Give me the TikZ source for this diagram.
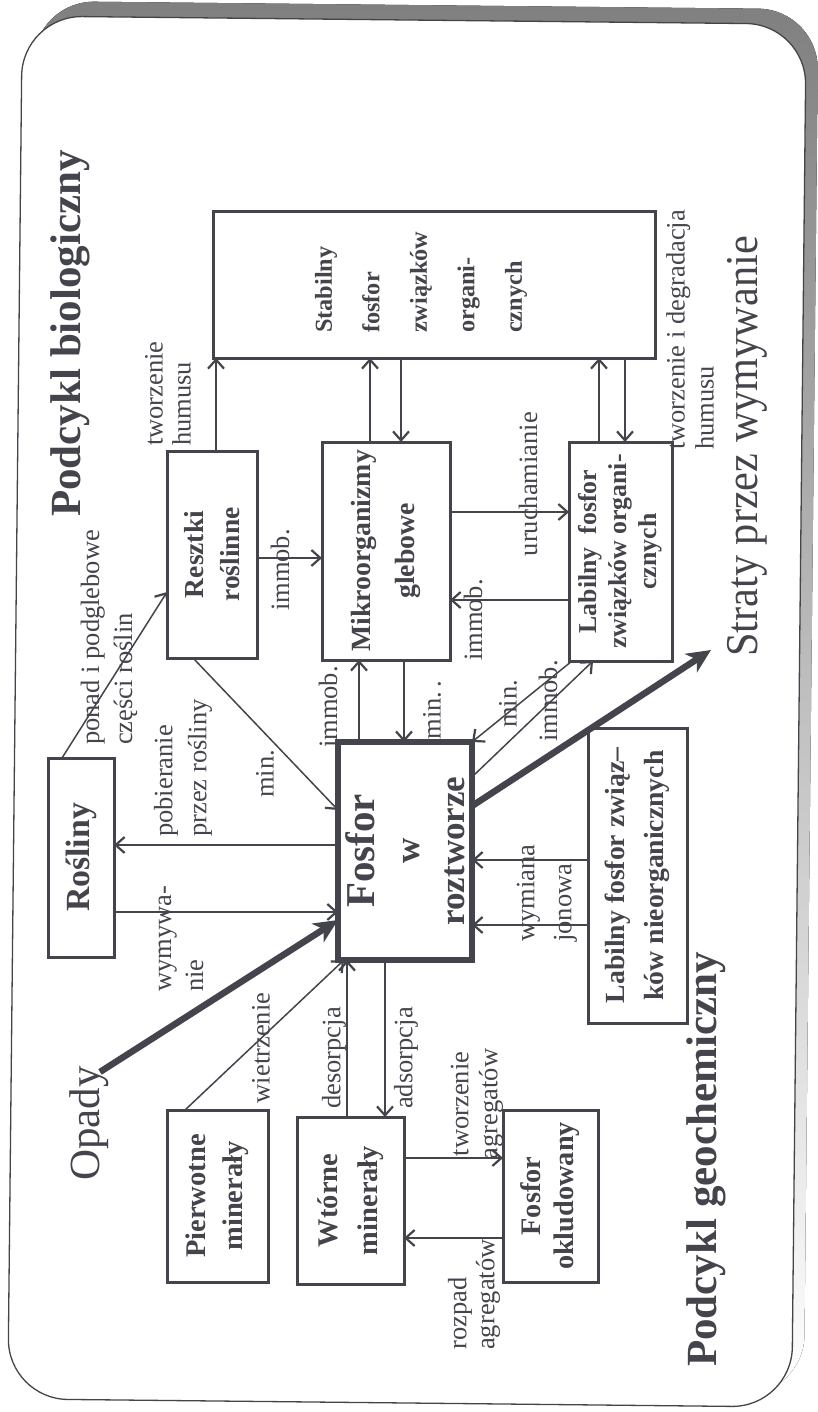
\documentclass[tikz,border=0pt]{standalone}
\usepackage{fontspec}
\setmainfont{Liberation Serif}
\newfontfamily\nrwfont{Liberation Serif}[FakeStretch=0.93]
\usetikzlibrary{arrows.meta,calc}
\definecolor{ink}{RGB}{68,68,76}
\definecolor{shade}{RGB}{90,90,98}
\newcommand\bxf[2]{\bfseries\fontsize{#1}{#2}\selectfont}
\newcommand\lbf[1]{\fontsize{26.5}{#1}\selectfont}
\begin{document}
\begin{tikzpicture}[x=1pt,y=-1pt,
  box/.style={draw=ink, line width=3pt, rotate=90, inner sep=0pt, outer sep=0pt, align=center, text=ink},
  lbl/.style={rotate=90, inner sep=0pt, text=ink, font=\lbf{30}},
  head/.style={rotate=90, anchor=west, inner sep=0pt, text=ink},
  conn/.style={draw=ink, line width=1.5pt},
  arr/.style={conn, -{Straight Barb[length=9pt,width=16pt,line width=2.2pt]}},
  big/.style={draw=ink, line width=6.5pt, -{Stealth[length=24pt,width=22pt,inset=7pt]}}
]
\useasboundingbox (0,0) rectangle (817,1412);
% frame
\begin{scope}[rotate around={-0.6:(408,710)}]
\fill[shade, rounded corners=60pt] (27,5) rectangle (811,1391);
\filldraw[fill=white, draw=ink, line width=1.3pt, rounded corners=60pt] (15,20) rectangle (799,1403);
\end{scope}

% boxes
\node[box, minimum width=146pt, minimum height=442pt] (stab) at (434,285) {};
\node[rotate=90, anchor=west, align=left, inner sep=0pt, text=ink, font=\bxf{24.3}{47.5}] (stabtxt) at (421,333) {Stabilny\\fosfor\\związków\\organi-\\cznych};
\node[box, minimum width=207pt, minimum height=90pt, font=\bxf{27.5}{36}] (res) at (212,554.5) {Resztki\\roślinne};
\node[box, minimum width=218pt, minimum height=128pt, font=\bxf{27.8}{44}] (mik) at (386,551) {Mikroorganizmy\\glebowe};
\node[box, minimum width=219pt, minimum height=103pt, font=\bxf{25.8}{30}] (lab) at (620.5,551.5) {Labilny\ \ fosfor\\związków organi-\\cznych};
\node[box, minimum width=199pt, minimum height=66pt, font=\bxf{33.8}{38}] (ros) at (81,857.5) {Rośliny};
\node[box, line width=5.5pt, minimum width=218pt, minimum height=134pt, font=\bxf{35}{45}] (fos) at (405,851) {{\fontsize{41}{45}\selectfont Fosfor}\\w\\roztworze};
\node[box, minimum width=295pt, minimum height=99pt, font=\bxf{27.7}{39}] (lnie) at (637.5,875.5) {Labilny fosfor związ–\\ków nieorganicznych};
\node[box, minimum width=172pt, minimum height=101pt, font=\bxf{28.5}{37}] (pier) at (217.5,1196) {Pierwotne\\minerały};
\node[box, minimum width=167pt, minimum height=107pt, font=\bxf{28.5}{40}] (wto) at (350.5,1200.5) {Wtórne\\minerały};
\node[box, minimum width=172pt, minimum height=95pt, font=\bxf{28.3}{33}] (okl) at (550.5,1196) {Fosfor\\okludowany};

% headings
\node[head, font=\bxf{43}{48}] (pbio) at (70,517) {Podcykl biologiczny};
\node[head, font=\bxf{43}{48}] (pgeo) at (706,1367) {Podcykl geochemiczny};
\node[head, font=\nrwfont\fontsize{45.5}{50}\selectfont] (straty) at (747,657) {Straty przez wymywanie};
\node[head, font=\fontsize{43}{48}\selectfont] (opady) at (89,1181) {Opady};
\coordinate (stip) at (711,650);

% connectors
\draw[arr] (res.east -| 216,0) -- (stab.west -| 216,0);
\draw[arr] (mik.east -| 370,0) -- (stab.west -| 370,0);
\draw[arr] (stab.west -| 401,0) -- (mik.east -| 401,0);
\draw[arr] (lab.east -| 599,0) -- (stab.west -| 599,0);
\draw[arr] (stab.west -| 625,0) -- (lab.east -| 625,0);
\draw[arr] (res.south |- 0,558) -- (mik.north |- 0,558);
\draw[arr] (mik.south |- 0,512) -- (lab.north |- 0,512);
\draw[arr] (lab.north |- 0,600) -- (mik.south |- 0,600);
\draw[arr] (fos.east -| 359,0) -- (mik.west -| 359,0);
\draw[arr] (mik.west -| 404,0) -- (fos.east -| 404,0);
\draw[arr] (res.west -| 193,0) -- (fos.north |- 0,810);
\draw[arr] (fos.north |- 0,845) -- (ros.south |- 0,845);
\draw[arr] (ros.south |- 0,912) -- (fos.north |- 0,912);
\draw[arr] (ros.east -| 62,0) -- (res.north |- 0,592);
\draw[arr] (lab.west -| 572,0) -- (fos.south east);
\draw[arr] (fos.south |- 0,777) -- (lab.west -| 593,0);
\draw[big] (fos.south |- 0,806) -- (stip);
\draw[big] ($(opady.east)+(11,6)$) -- (fos.north |- 0,920);
\draw[arr] (pier.east -| 185,0) -- (fos.west -| 344,0);
\draw[arr] (wto.east -| 347,0) -- (fos.west -| 347,0);
\draw[arr] (fos.west -| 385,0) -- (wto.east -| 385,0);
\draw[arr] (wto.south |- 0,1158) -- (okl.north |- 0,1158);
\draw[arr] (okl.north |- 0,1238) -- (wto.south |- 0,1238);
\draw[arr] (lnie.north |- 0,860) -- (fos.south |- 0,860);
\draw[arr] (lnie.north |- 0,925) -- (fos.south |- 0,925);

% labels
\node[lbl] (timm1) at (280,570) {immob.};
\node[lbl] (turu) at (528,484) {uruchamianie};
\node[lbl] (timm2) at (473,620) {immob.};
\node[lbl] (timm3) at (328,707) {immob.};
\node[lbl] (tmin1) at (432,710) {min.\,.};
\node[lbl] (tmin2) at (265,774) {min.};
\node[lbl] (tmin3) at (508,704) {min.};
\node[lbl] (timm4) at (548,701) {immob.};
\node[lbl] (twie) at (261,1048) {wietrzenie};
\node[lbl] (tdes) at (334,1058) {desorpcja};
\node[lbl] (tads) at (406,1058) {adsorpcja};
\node[lbl, align=center, font=\lbf{29}] (ttag) at (477,1104) {tworzenie\\agregatów};
\node[lbl, anchor=west, align=left, font=\lbf{28}] (thum) at (168,446) {tworzenie\\humusu};
\node[lbl, anchor=west, align=left, font=\lbf{33}] (tpon) at (109,745) {ponad i podglebowe\\części roślin};
\node[lbl, anchor=west, align=left, font=\lbf{34}] (tpob) at (183,837) {pobieranie\\przez rośliny};
\node[lbl, anchor=west, align=left, font=\lbf{32}] (twym) at (181,992) {wymywa-\\nie};
\node[lbl, anchor=west, align=left, font=\lbf{37}] (tjon) at (547,942) {wymiana\\jonowa};
\node[lbl, anchor=west, align=left, font=\lbf{29}] (tdeg) at (690,450) {tworzenie i degradacja\\humusu};
\node[lbl, anchor=west, align=left, font=\lbf{28}] (troz) at (474,1350) {rozpad\\agregatów};
\end{tikzpicture}
\end{document}
